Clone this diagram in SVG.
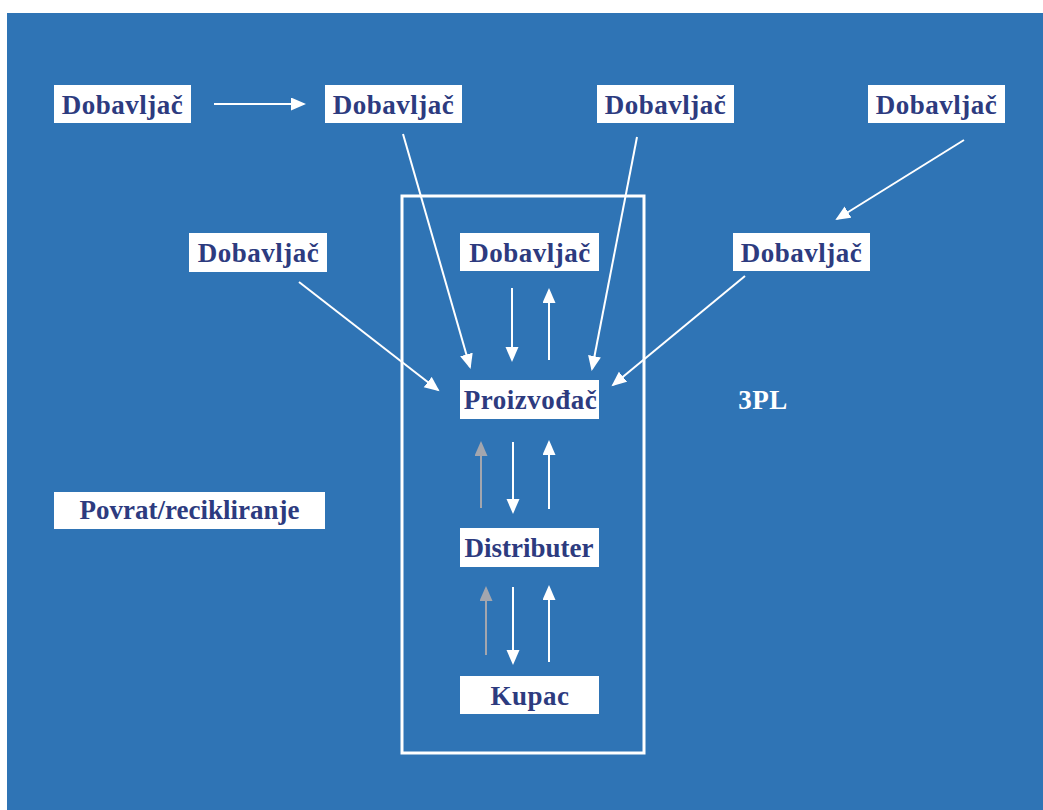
<svg xmlns="http://www.w3.org/2000/svg" width="1043" height="810" viewBox="0 0 1043 810">
<style>
.box{fill:#ffffff}
.lbl{font-family:"Liberation Serif","Times New Roman",serif;font-weight:bold;font-size:27px;fill:#2D3B7F;text-anchor:middle;letter-spacing:0.5px}
.tight{letter-spacing:0}
.w{stroke:#ffffff;stroke-width:2;fill:none}
.g{stroke:#A3A6AE;stroke-width:2;fill:none}
</style>
<defs>
<marker id="aw" markerUnits="userSpaceOnUse" markerWidth="16" markerHeight="14" refX="13" refY="6.5" orient="auto"><path d="M0,0 L15,6.5 L0,13 z" fill="#ffffff"/></marker>
<marker id="ag" markerUnits="userSpaceOnUse" markerWidth="16" markerHeight="14" refX="13" refY="6.5" orient="auto"><path d="M0,0 L15,6.5 L0,13 z" fill="#A3A6AE"/></marker>
</defs>
<rect x="0" y="0" width="1043" height="810" fill="#ffffff"/>
<rect x="7" y="13" width="1036" height="797" fill="#2F74B5"/>
<rect id="frame" x="402" y="196" width="242" height="557" fill="none" stroke="#ffffff" stroke-width="3"/>
<g id="connectors">
<line class="w" x1="214" y1="104" x2="304" y2="104" marker-end="url(#aw)"/>
<line class="w" x1="403" y1="134" x2="470" y2="367" marker-end="url(#aw)"/>
<line class="w" x1="637" y1="137" x2="592" y2="369" marker-end="url(#aw)"/>
<line class="w" x1="964" y1="140" x2="837" y2="219" marker-end="url(#aw)"/>
<line class="w" x1="299" y1="282" x2="438" y2="390" marker-end="url(#aw)"/>
<line class="w" x1="745" y1="276" x2="613" y2="385" marker-end="url(#aw)"/>
<line class="w" x1="512" y1="288" x2="512" y2="360" marker-end="url(#aw)"/>
<line class="w" x1="549" y1="360" x2="549" y2="290" marker-end="url(#aw)"/>
<line class="g" x1="481" y1="508" x2="481" y2="443" marker-end="url(#ag)"/>
<line class="w" x1="513" y1="442" x2="513" y2="512" marker-end="url(#aw)"/>
<line class="w" x1="549" y1="509" x2="549" y2="442" marker-end="url(#aw)"/>
<line class="g" x1="486" y1="655" x2="486" y2="588" marker-end="url(#ag)"/>
<line class="w" x1="513" y1="587" x2="513" y2="663" marker-end="url(#aw)"/>
<line class="w" x1="549" y1="662" x2="549" y2="587" marker-end="url(#aw)"/>
</g>
<g id="dob1"><rect class="box" x="54" y="85" width="137" height="38"/><text class="lbl" x="122.5" y="114">Dobavljač</text></g>
<g id="dob2"><rect class="box" x="325" y="85" width="137" height="38"/><text class="lbl" x="393.5" y="114">Dobavljač</text></g>
<g id="dob3"><rect class="box" x="597" y="85" width="137" height="38"/><text class="lbl" x="665.5" y="114">Dobavljač</text></g>
<g id="dob4"><rect class="box" x="868" y="85" width="137" height="38"/><text class="lbl" x="936.5" y="114">Dobavljač</text></g>
<g id="dob5"><rect class="box" x="189" y="233" width="138" height="39"/><text class="lbl" x="258.5" y="262">Dobavljač</text></g>
<g id="dob6"><rect class="box" x="460" y="233" width="139" height="38"/><text class="lbl" x="530" y="262">Dobavljač</text></g>
<g id="dob7"><rect class="box" x="733" y="233" width="137" height="38"/><text class="lbl" x="801.5" y="262">Dobavljač</text></g>
<g id="proizvodjac"><rect class="box" x="460" y="380" width="139" height="39"/><text class="lbl" x="530.5" y="409">Proizvođač</text></g>
<g id="distributer"><rect class="box" x="460" y="528" width="139" height="39"/><text class="lbl tight" x="529" y="557">Distributer</text></g>
<g id="kupac"><rect class="box" x="460" y="676" width="139" height="38"/><text class="lbl" x="530" y="705">Kupac</text></g>
<g id="povrat"><rect class="box" x="54" y="492" width="271" height="37"/><text class="lbl tight" x="189.5" y="519">Povrat/recikliranje</text></g>
<g id="tpl"><text class="lbl" x="763" y="409" style="fill:#ffffff">3PL</text></g>
</svg>
